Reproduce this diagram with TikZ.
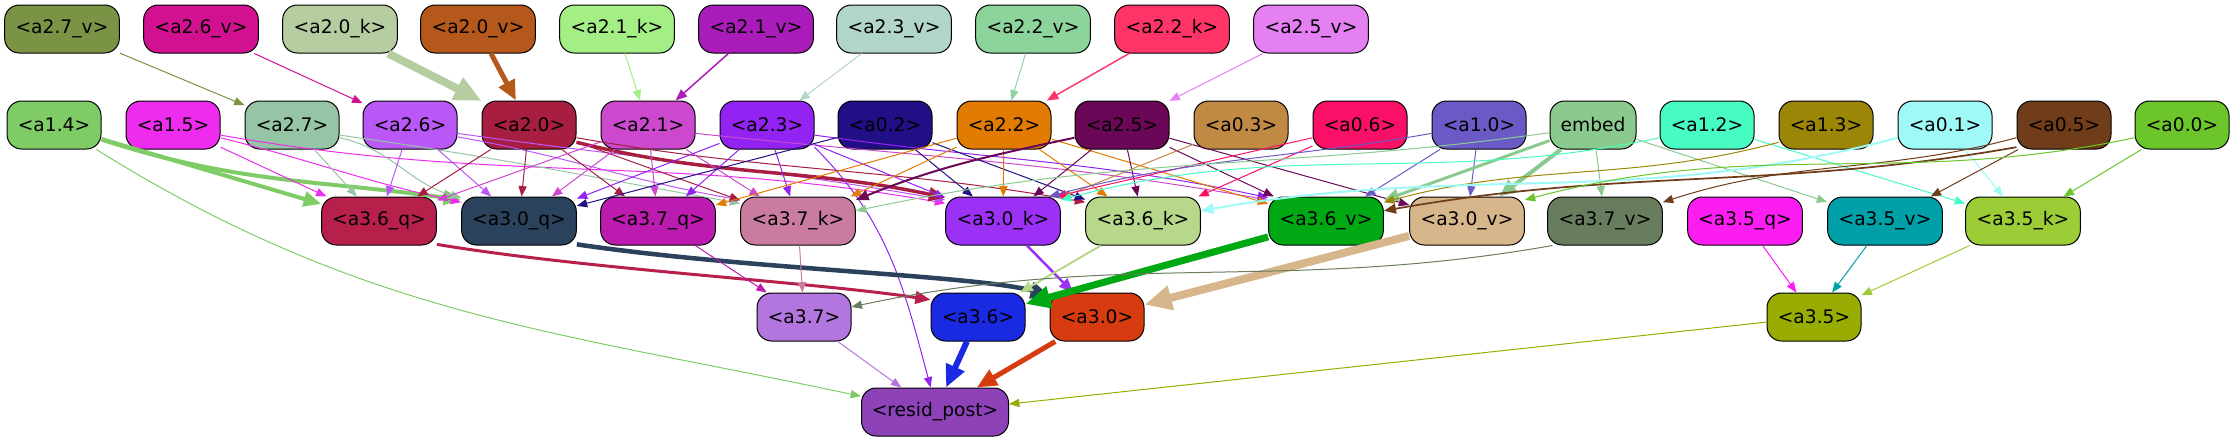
\documentclass[tikz,border=0pt]{standalone}
\usepackage{fontspec}
\setmainfont{DejaVu Sans}
\usetikzlibrary{arrows.meta}
% node fills (edges take the colour of their source)
\definecolor{c27v}{HTML}{7B9344}
\definecolor{c26v}{HTML}{D1118F}
\definecolor{c20k}{HTML}{B6CCA1}
\definecolor{c20v}{HTML}{B5581B}
\definecolor{c21k}{HTML}{A3EF86}
\definecolor{c21v}{HTML}{AA1CBA}
\definecolor{c23v}{HTML}{B1D4CB}
\definecolor{c22v}{HTML}{8CD39C}
\definecolor{c22k}{HTML}{FF3467}
\definecolor{c25v}{HTML}{E580F3}
\definecolor{c14}{HTML}{7FCC67}
\definecolor{c15}{HTML}{EE2CEE}
\definecolor{c27}{HTML}{96C5A5}
\definecolor{c26}{HTML}{BA57F7}
\definecolor{c20}{HTML}{A71E40}
\definecolor{c21}{HTML}{CC49CE}
\definecolor{c23}{HTML}{9323F2}
\definecolor{c02}{HTML}{220E85}
\definecolor{c22}{HTML}{E27B02}
\definecolor{c25}{HTML}{6A0857}
\definecolor{c03}{HTML}{C08A45}
\definecolor{c06}{HTML}{FB1068}
\definecolor{c10}{HTML}{6B5AC6}
\definecolor{cembed}{HTML}{8BCA8F}
\definecolor{c12}{HTML}{46FCC3}
\definecolor{c13}{HTML}{9C8608}
\definecolor{c01}{HTML}{9FF9F6}
\definecolor{c05}{HTML}{6F3D19}
\definecolor{c00}{HTML}{6CC52A}
\definecolor{c36q}{HTML}{B8204C}
\definecolor{c30q}{HTML}{2A425B}
\definecolor{c37q}{HTML}{BB1CAF}
\definecolor{c37k}{HTML}{C97C9F}
\definecolor{c30k}{HTML}{9A31F5}
\definecolor{c36k}{HTML}{B7D78B}
\definecolor{c36v}{HTML}{00A913}
\definecolor{c30v}{HTML}{D7B68C}
\definecolor{c37v}{HTML}{687C5E}
\definecolor{c35q}{HTML}{FB1DF2}
\definecolor{c35v}{HTML}{00A0A9}
\definecolor{c35k}{HTML}{9CCD36}
\definecolor{c37}{HTML}{B375DE}
\definecolor{c36}{HTML}{1A2AE2}
\definecolor{c30}{HTML}{D63C10}
\definecolor{c35}{HTML}{99AC01}
\definecolor{cresid}{HTML}{8E42B8}

\begin{document}
\begin{tikzpicture}[
  x=0.75pt, y=-0.75pt,
  >={Triangle[length=6pt 2.4, width=4.5pt 2.2]},
  nd/.style={draw=black, line width=0.75pt, rounded corners=11pt, minimum height=36pt,
    inner sep=0pt, font=\fontsize{14}{16}\selectfont},
  wd/.style={nd, minimum width=86pt},
  sh/.style={nd, minimum width=70.5pt},
  lnk/.style={->, line width=#1},
  lnk/.default=0.75pt,
]
\useasboundingbox (0,0) rectangle (2235,443);

% ---------- ROW 1 ----------
\node[wd, fill=c27v] (a27v) at (62,29) {<a2.7\_v>};
\node[wd, fill=c26v] (a26v) at (201,29) {<a2.6\_v>};
\node[wd, fill=c20k] (a20k) at (340,29) {<a2.0\_k>};
\node[wd, fill=c20v] (a20v) at (478,29) {<a2.0\_v>};
\node[wd, fill=c21k] (a21k) at (617,29) {<a2.1\_k>};
\node[wd, fill=c21v] (a21v) at (756,29) {<a2.1\_v>};
\node[wd, fill=c23v] (a23v) at (894,29) {<a2.3\_v>};
\node[wd, fill=c22v] (a22v) at (1033,29) {<a2.2\_v>};
\node[wd, fill=c22k] (a22k) at (1172,29) {<a2.2\_k>};
\node[wd, fill=c25v] (a25v) at (1311,29) {<a2.5\_v>};

% ---------- ROW 2 ----------
\node[sh, fill=c14] (a14) at (54,125) {<a1.4>};
\node[sh, fill=c15] (a15) at (173,125) {<a1.5>};
\node[sh, fill=c27] (a27) at (292,125) {<a2.7>};
\node[sh, fill=c26] (a26) at (410,125) {<a2.6>};
\node[sh, fill=c20] (a20) at (529,125) {<a2.0>};
\node[sh, fill=c21] (a21) at (648,125) {<a2.1>};
\node[sh, fill=c23] (a23) at (767,125) {<a2.3>};
\node[sh, fill=c02] (a02) at (885,125) {<a0.2>};
\node[sh, fill=c22] (a22) at (1004,125) {<a2.2>};
\node[sh, fill=c25] (a25) at (1122,125) {<a2.5>};
\node[sh, fill=c03] (a03) at (1241,125) {<a0.3>};
\node[sh, fill=c06] (a06) at (1360,125) {<a0.6>};
\node[sh, fill=c10] (a10) at (1479,125) {<a1.0>};
\node[nd, fill=cembed, minimum width=64.5pt] (embed) at (1593,125) {embed};
\node[sh, fill=c12] (a12) at (1707,125) {<a1.2>};
\node[sh, fill=c13] (a13) at (1826,125) {<a1.3>};
\node[sh, fill=c01] (a01) at (1945,125) {<a0.1>};
\node[sh, fill=c05] (a05) at (2064,125) {<a0.5>};
\node[sh, fill=c00] (a00) at (2182,125) {<a0.0>};

% ---------- ROW 3 ----------
\node[wd, fill=c36q] (a36q) at (379,221) {<a3.6\_q>};
\node[wd, fill=c30q] (a30q) at (519,221) {<a3.0\_q>};
\node[wd, fill=c37q] (a37q) at (658,221) {<a3.7\_q>};
\node[wd, fill=c37k] (a37k) at (798,221) {<a3.7\_k>};
\node[wd, fill=c30k] (a30k) at (1003,221) {<a3.0\_k>};
\node[wd, fill=c36k] (a36k) at (1143,221) {<a3.6\_k>};
\node[wd, fill=c36v] (a36v) at (1326,221) {<a3.6\_v>};
\node[wd, fill=c30v] (a30v) at (1467,221) {<a3.0\_v>};
\node[wd, fill=c37v] (a37v) at (1605,221) {<a3.7\_v>};
\node[wd, fill=c35q] (a35q) at (1745,221) {<a3.5\_q>};
\node[wd, fill=c35v] (a35v) at (1885,221) {<a3.5\_v>};
\node[wd, fill=c35k] (a35k) at (2023,221) {<a3.5\_k>};

% ---------- ROW 4 / OUTPUT ----------
\node[sh, fill=c37] (a37) at (804,317) {<a3.7>};
\node[sh, fill=c36] (a36) at (978,317) {<a3.6>};
\node[sh, fill=c30] (a30) at (1097,317) {<a3.0>};
\node[sh, fill=c35] (a35) at (1814,317) {<a3.5>};
\node[nd, fill=cresid, minimum width=110.25pt] (resid) at (935,412) {<resid\_post>};

% ---------- ROW 1 -> ROW 2 ----------
\draw[lnk, c27v] (a27v) -- (a27);
\draw[lnk, c26v] (a26v) -- (a26);
\draw[lnk=6pt, c20k] (a20k) -- (a20);
\draw[lnk=3.75pt, c20v] (a20v) -- (a20);
\draw[lnk, c21k] (a21k) -- (a21);
\draw[lnk=1.1pt, c21v] (a21v) -- (a21);
\draw[lnk, c23v] (a23v) -- (a23);
\draw[lnk, c22v] (a22v) -- (a22);
\draw[lnk=1.1pt, c22k] (a22k) -- (a22);
\draw[lnk, c25v] (a25v) -- (a25);

% ---------- ROW 2 -> ROW 3 ----------
\draw[lnk=3pt, c14] (a14) -- (a36q);
\draw[lnk=3pt, c14] (a14.-17) to[out=-18, in=172] (a30q.160);
\draw[lnk, c14] (a14.-30) to[out=-32, in=168] (resid.168);
\draw[lnk, c15] (a15) -- (a36q);
\draw[lnk, c15] (a15.-15) to[out=-14, in=168] (a30q.162);
\draw[lnk, c15] (a15.-12) to[out=-10, in=170] (a30k.163);
\draw[lnk, c27] (a27) -- (a36q);
\draw[lnk, c27] (a27.-15) to[out=-12, in=165] (a30q.158);
\draw[lnk, c27] (a27.-12) to[out=-8, in=170] (a37k.163);
\draw[lnk, c26] (a26) -- (a36q);
\draw[lnk, c26] (a26) -- (a30q);
\draw[lnk, c26] (a26.-14) to[out=-10, in=170] (a37k.160);
\draw[lnk, c26] (a26.-10) to[out=-8, in=170] (a30k.160);
\draw[lnk, c20] (a20) -- (a36q);
\draw[lnk, c20] (a20) -- (a30q);
\draw[lnk, c20] (a20) -- (a37q);
\draw[lnk, c20] (a20) -- (a37k);
\draw[lnk=2.6pt, c20] (a20.-20) to[out=-14, in=168] (a30k.158);
\draw[lnk, c20] (a20.-15) to[out=-10, in=170] (a36k.162);
\draw[lnk, c21] (a21) -- (a36q);
\draw[lnk, c21] (a21) -- (a30q);
\draw[lnk, c21] (a21) -- (a37q);
\draw[lnk, c21] (a21) -- (a37k);
\draw[lnk, c21] (a21.-10) to[out=-6, in=170] (a36v.160);
\draw[lnk, c23] (a23) -- (a30q);
\draw[lnk, c23] (a23) -- (a37q);
\draw[lnk, c23] (a23) -- (a37k);
\draw[lnk, c23] (a23) -- (a30k);
\draw[lnk, c23] (a23.-12) to[out=-8, in=168] (a36v.158);
\draw[lnk, c23] (a23.-25) to[out=-45, in=105] (resid.100);
\draw[lnk, c02] (a02) -- (a30q);
\draw[lnk, c02] (a02) -- (a30k);
\draw[lnk, c02] (a02) -- (a36k);
\draw[lnk, c22] (a22) -- (a37q);
\draw[lnk, c22] (a22) -- (a37k);
\draw[lnk, c22] (a22) -- (a30k);
\draw[lnk, c22] (a22) -- (a36k);
\draw[lnk, c22] (a22) -- (a36v);
\draw[lnk=1.5pt, c25] (a25.195) to[out=192, in=22] (a37k.20);
\draw[lnk, c25] (a25) -- (a30k);
\draw[lnk, c25] (a25) -- (a36k);
\draw[lnk, c25] (a25) -- (a36v);
\draw[lnk, c25] (a25) -- (a30v);
\draw[lnk, c03] (a03) -- (a30k);
\draw[lnk, c06] (a06) -- (a36k);
\draw[lnk, c06] (a06.195) -- (a30k.25);
\draw[lnk, c10] (a10) -- (a36v);
\draw[lnk, c10] (a10) -- (a30v);
\draw[lnk, c10] (a10.190) to[out=190, in=15] (a30k.28);
\draw[lnk=2.25pt, cembed] (embed) -- (a36v);
\draw[lnk=3pt, cembed] (embed) -- (a30v);
\draw[lnk, cembed] (embed) -- (a37v);
\draw[lnk, cembed] (embed) -- (a35v);
\draw[lnk, cembed] (embed.190) to[out=188, in=12] (a37k.10);
\draw[lnk, c12] (a12) -- (a35k);
\draw[lnk, c12] (a12.195) to[out=192, in=15] (a30k.20);
\draw[lnk, c13] (a13.200) to[out=195, in=15] (a36v.18);
\draw[lnk, c01] (a01) -- (a35k);
\draw[lnk=1.5pt, c01] (a01.195) to[out=195, in=10] (a36k.10);
\draw[lnk, c05] (a05) -- (a35v);
\draw[lnk, c05] (a05.195) to[out=195, in=18] (a37v.18);
\draw[lnk=1.3pt, c05] (a05.205) to[out=190, in=10] (a36v.10);
\draw[lnk, c00] (a00) -- (a35k);
\draw[lnk, c00] (a00.195) to[out=192, in=15] (a30v.20);

% ---------- ROW 3 -> ROW 4 ----------
\draw[lnk=2.25pt, c36q] (a36q.-22) .. controls +(150,25) and +(-120,-18) .. (a36.160);
\draw[lnk=3.4pt, c30q] (a30q.-22) .. controls +(170,25) and +(-80,-20) .. (a30.155);
\draw[lnk, c37q] (a37q) -- (a37);
\draw[lnk, c37k] (a37k) -- (a37);
\draw[lnk=1.9pt, c30k] (a30k) -- (a30);
\draw[lnk=1.5pt, c36k] (a36k) -- (a36);
\draw[lnk=5.25pt, c36v] (a36v) -- (a36);
\draw[lnk=6pt, c30v] (a30v) -- (a30);
\draw[lnk, c37v] (a37v.205) to[out=190, in=12] (a37.12);
\draw[lnk, c35q] (a35q) -- (a35);
\draw[lnk, c35v] (a35v) -- (a35);
\draw[lnk, c35k] (a35k) -- (a35);

% ---------- ROW 4 -> OUTPUT ----------
\draw[lnk, c37] (a37) -- (resid);
\draw[lnk=4.5pt, c36] (a36) -- (resid);
\draw[lnk=3.75pt, c30] (a30) -- (resid);
\draw[lnk, c35] (a35) -- (resid);

\end{tikzpicture}
\end{document}
